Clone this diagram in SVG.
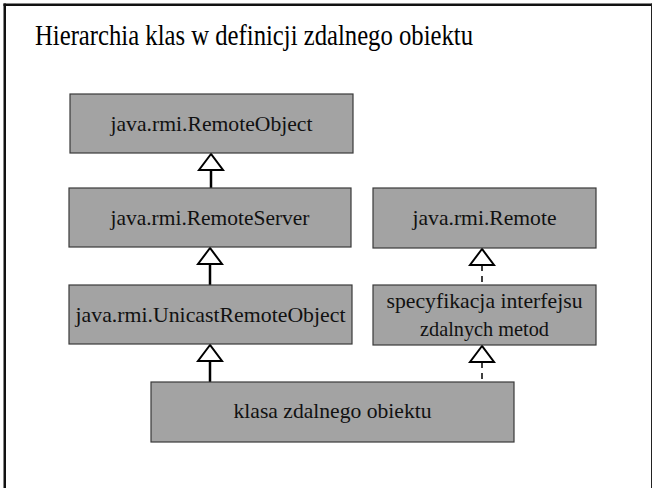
<svg xmlns="http://www.w3.org/2000/svg" width="653" height="488" viewBox="0 0 653 488">
<defs>
<style>
.box{fill:#a3a3a3;stroke:#3a3a3a;stroke-width:1.2}
.lbl{font-family:"Liberation Serif","Times New Roman",serif;font-size:21px;fill:#111;text-anchor:middle}
.ttl{font-family:"Liberation Serif","Times New Roman",serif;font-size:29px;fill:#000}
.solid{stroke:#000;stroke-width:2.5;fill:none}
.dash{stroke:#000;stroke-width:1.5;fill:none;stroke-dasharray:6,5}
.head{fill:#fff;stroke:#000;stroke-width:2}
</style>
</defs>
<rect x="0" y="0" width="653" height="488" fill="#fff"/>
<g id="frame">
<line x1="4.75" y1="3.5" x2="4.75" y2="488" stroke="#111" stroke-width="2.5"/>
<line x1="3.5" y1="4.75" x2="652" y2="4.75" stroke="#111" stroke-width="2.5"/>
<line x1="651.5" y1="3.5" x2="651.5" y2="488" stroke="#222" stroke-width="1"/>
</g>
<text class="ttl" x="35" y="45" textLength="438" lengthAdjust="spacingAndGlyphs">Hierarchia klas w definicji zdalnego obiektu</text>
<g id="connectors">
<line class="solid" x1="211" y1="169" x2="211" y2="188"/>
<polygon class="head" points="211,154 199,170 223,170"/>
<line class="solid" x1="210" y1="263" x2="210" y2="285"/>
<polygon class="head" points="210,248 198,264 222,264"/>
<line class="solid" x1="210" y1="360" x2="210" y2="382"/>
<polygon class="head" points="210,345 198,361 222,361"/>
<line class="dash" x1="482" y1="265" x2="482" y2="285"/>
<polygon class="head" points="482,249 470,265 494,265"/>
<line class="dash" x1="482" y1="362" x2="482" y2="382"/>
<polygon class="head" points="482,346 470,362 494,362"/>
</g>
<g id="remoteobject"><rect class="box" x="70" y="94" width="283" height="59"/><text class="lbl" x="211.5" y="131" textLength="202" lengthAdjust="spacingAndGlyphs">java.rmi.RemoteObject</text></g>
<g id="remoteserver"><rect class="box" x="69" y="188" width="282" height="59"/><text class="lbl" x="210" y="225" textLength="199" lengthAdjust="spacingAndGlyphs">java.rmi.RemoteServer</text></g>
<g id="unicast"><rect class="box" x="69" y="285" width="283" height="59"/><text class="lbl" x="210.5" y="322" textLength="270" lengthAdjust="spacingAndGlyphs">java.rmi.UnicastRemoteObject</text></g>
<g id="remote"><rect class="box" x="373" y="188" width="223" height="60"/><text class="lbl" x="484.5" y="225" textLength="144" lengthAdjust="spacingAndGlyphs">java.rmi.Remote</text></g>
<g id="spec"><rect class="box" x="373" y="285" width="223" height="60"/><text class="lbl" x="484.5" y="308" textLength="196" lengthAdjust="spacingAndGlyphs">specyfikacja interfejsu</text><text class="lbl" x="484.5" y="336" textLength="129" lengthAdjust="spacingAndGlyphs">zdalnych metod</text></g>
<g id="klasa"><rect class="box" x="151" y="382" width="363" height="60"/><text class="lbl" x="332.5" y="418" textLength="198" lengthAdjust="spacingAndGlyphs">klasa zdalnego obiektu</text></g>
</svg>
